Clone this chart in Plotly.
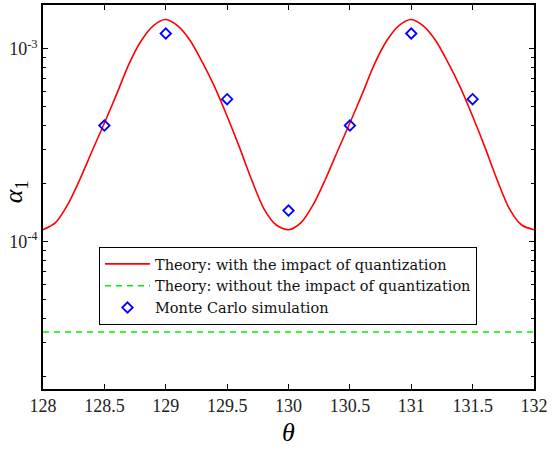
import plotly.graph_objects as go

# theta grid for the theory curve (step 0.1)
theta = [128 + i / 10 for i in range(41)]

# alpha_1, theory with quantization
alpha_quant = [
    1.153e-4, 1.25e-4, 1.55e-4, 2.10e-4, 2.95e-4, 4.12e-4, 5.82e-4, 8.32e-4, 1.10e-3, 1.32e-3,
    1.418e-3, 1.31e-3, 1.10e-3, 8.47e-4, 6.31e-4, 4.47e-4, 3.09e-4, 2.09e-4, 1.48e-4, 1.22e-4,
    1.153e-4, 1.25e-4, 1.55e-4, 2.10e-4, 2.95e-4, 4.12e-4, 5.82e-4, 8.32e-4, 1.10e-3, 1.32e-3,
    1.418e-3, 1.31e-3, 1.10e-3, 8.47e-4, 6.31e-4, 4.47e-4, 3.09e-4, 2.09e-4, 1.48e-4, 1.22e-4,
    1.153e-4,
]

# theory without quantization (flat)
theta_flat = [128, 132]
alpha_flat = [3.4e-5, 3.4e-5]

# Monte Carlo points
theta_mc = [128.5, 129, 129.5, 130, 130.5, 131, 131.5]
alpha_mc = [4.0e-4, 1.2e-3, 5.48e-4, 1.45e-4, 4.0e-4, 1.2e-3, 5.48e-4]

x_ticks = [128, 128.5, 129, 129.5, 130, 130.5, 131, 131.5, 132]
x_labels = ["128", "128.5", "129", "129.5", "130", "130.5", "131", "131.5", "132"]
y_ticks = [1e-4, 1e-3]
y_labels = ["10<sup>-4</sup>", "10<sup>-3</sup>"]
y_minor = [2e-5, 3e-5, 4e-5, 5e-5, 6e-5, 7e-5, 8e-5, 9e-5,
           2e-4, 3e-4, 4e-4, 5e-4, 6e-4, 7e-4, 8e-4, 9e-4]

serif = "Liberation Serif"

fig = go.Figure()
fig.add_trace(go.Scatter(
    x=theta, y=alpha_quant, mode="lines", line_shape="spline",
    line=dict(color="#ff0000", width=1.6, smoothing=0.8),
    name="Theory: with the impact of quantization",
))
fig.add_trace(go.Scatter(
    x=theta_flat, y=alpha_flat, mode="lines",
    line=dict(color="#00ee00", width=1.4, dash="6px,5px"),
    name="Theory: without the impact of quantization",
))
fig.add_trace(go.Scatter(
    x=theta_mc, y=alpha_mc, mode="markers",
    marker=dict(symbol="diamond-open", size=8, color="#0000ff", line=dict(width=1.8, color="#0000ff")),
    name="Monte Carlo simulation",
))

fig.update_layout(
    width=558, height=450,
    margin=dict(l=43, r=24, t=3, b=61),
    paper_bgcolor="white", plot_bgcolor="white",
    font=dict(family=serif, size=18, color="#222222"),
    showlegend=True,
    legend=dict(
        x=0.114, y=0.37, xanchor="left", yanchor="top",
        bgcolor="white", bordercolor="black", borderwidth=1,
        font=dict(family="DejaVu Serif", size=14.5, color="#111111"),
        tracegroupgap=0, itemwidth=45,
    ),
)
fig.update_xaxes(
    range=[128, 132], tickvals=x_ticks, ticktext=x_labels,
    ticks="inside", ticklen=5, tickcolor="black",
    showline=True, linecolor="black", linewidth=1.5, mirror="ticks",
    showgrid=False, zeroline=False,
)
fig.update_yaxes(
    type="log", range=[-4.764, -2.773],
    tickvals=y_ticks, ticktext=y_labels,
    ticks="inside", ticklen=5, tickcolor="black",
    minor=dict(tickvals=y_minor, ticks="inside", ticklen=3, tickcolor="black", showgrid=False),
    showline=True, linecolor="black", linewidth=1.5, mirror="ticks",
    showgrid=False, zeroline=False,
)

fig.add_annotation(
    text="<i>θ</i>", xref="paper", yref="paper", x=0.5, y=-0.07,
    xanchor="center", yanchor="top", showarrow=False,
    font=dict(family=serif, size=26, color="black"),
)
fig.add_annotation(
    text="<i>α</i><sub>1</sub>", xref="paper", yref="paper", x=-0.02, y=0.513,
    xanchor="right", yanchor="middle", textangle=-90, showarrow=False,
    font=dict(family=serif, size=26, color="black"),
)

fig.write_html("out.html", config={"displayModeBar": False},
               post_script="document.body.style.margin='0';")
